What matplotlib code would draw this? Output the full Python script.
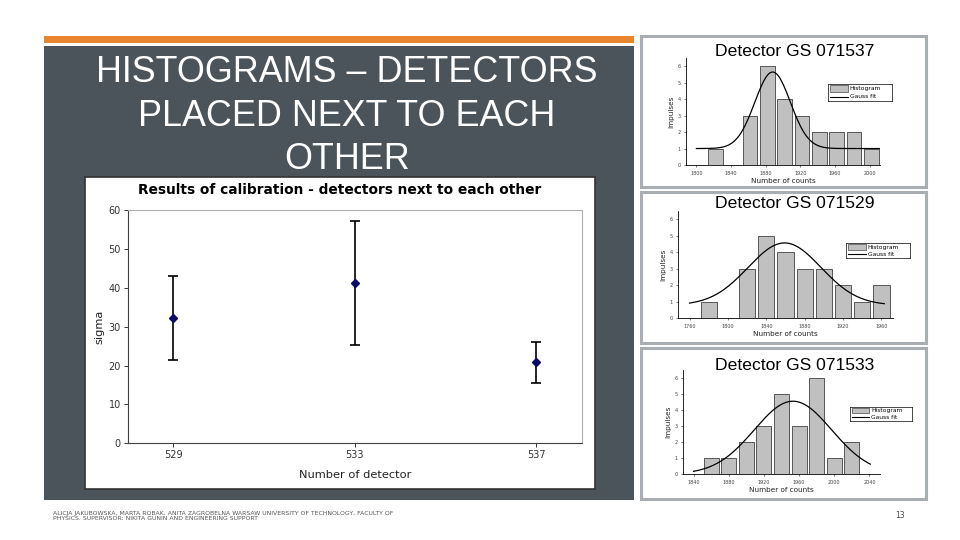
import numpy as np
import matplotlib
matplotlib.use("Agg")
import matplotlib.pyplot as plt
from matplotlib.patches import Rectangle

# ---------------- data ----------------
detectors = [529, 533, 537]
sigma_vals = [32.2, 41.2, 20.8]
sigma_low = [21.3, 25.2, 15.4]
sigma_high = [43.0, 57.2, 26.0]
main_yticks = [0, 10, 20, 30, 40, 50, 60]

h1_title = "Detector GS 071537"
h1_centers = [1822, 1842, 1862, 1882, 1902, 1922, 1942, 1962, 1982, 2002]
h1_counts = [1, 0, 3, 6, 4, 3, 2, 2, 2, 1]
h1_xticks = [1800, 1840, 1880, 1920, 1960, 2000]
h1_fit = dict(y0=1.0, A=4.65, xc=1888, w=20.5, xmin=1800, xmax=2024)

h2_title = "Detector GS 071529"
h2_centers = [1780, 1800, 1820, 1840, 1860, 1880, 1900, 1920, 1940, 1960]
h2_counts = [1, 0, 3, 5, 4, 3, 3, 2, 1, 2]
h2_xticks = [1760, 1800, 1840, 1880, 1920, 1960]
h2_fit = dict(y0=0.78, A=3.78, xc=1859, w=38, xmin=1760, xmax=1963)

h3_title = "Detector GS 071533"
h3_centers = [1860, 1880, 1900, 1920, 1940, 1960, 1980, 2000, 2020]
h3_counts = [1, 1, 2, 3, 5, 3, 6, 1, 2]
h3_xticks = [1840, 1880, 1920, 1960, 2000, 2040]
h3_fit = dict(y0=0.0, A=4.55, xc=1953, w=44, xmin=1840, xmax=2041)

hist_yticks = [0, 1, 2, 3, 4, 5, 6]

slide_title = "HISTOGRAMS – DETECTORS\nPLACED NEXT TO EACH\nOTHER"
footer = ("ALICJA JAKUBOWSKA, MARTA ROBAK, ANITA ZAGROBELNA WARSAW UNIVERSITY OF TECHNOLOGY, FACULTY OF\n"
          "PHYSICS. SUPERVISOR: NIKITA GUNIN AND ENGINEERING SUPPORT")
page_no = "13"

W, H = 960, 540
fig = plt.figure(figsize=(9.6, 5.4), dpi=100)
fig.patch.set_facecolor("white")

bg = fig.add_axes([0, 0, 1, 1])
bg.set_xlim(0, W)
bg.set_ylim(H, 0)
bg.axis("off")


def px_axes(l, t, r, b, z=2):
    return fig.add_axes([l / W, 1 - b / H, (r - l) / W, (b - t) / H], zorder=z)


# slide decorations
bg.add_patch(Rectangle((44, 36), 590, 7, facecolor="#e8852e", edgecolor="none"))
bg.add_patch(Rectangle((44, 46), 590, 454, facecolor="#4a545a", edgecolor="none"))
bg.text(347, 116, slide_title, color="white", fontsize=25.8, ha="center", va="center",
        family="Liberation Sans", linespacing=1.3)

# main chart image
bg.add_patch(Rectangle((85, 177), 510, 312, facecolor="white", edgecolor="#333333", lw=1.2))
bg.text(340, 190, "Results of calibration - detectors next to each other", fontsize=9.9,
        fontweight="bold", ha="center", va="center", family="DejaVu Sans", color="black")

ax = px_axes(127.7, 210, 581.7, 443.3)
yerr = [np.array(sigma_vals) - np.array(sigma_low), np.array(sigma_high) - np.array(sigma_vals)]
ax.errorbar(detectors, sigma_vals, yerr=yerr, fmt="none", ecolor="black", elinewidth=1.2,
            capsize=3.5, capthick=1.2)
ax.plot(detectors, sigma_vals, "D", color="#0a0a6a", markersize=4.5, zorder=3)
ax.set_xlim(528, 538)
ax.set_ylim(0, 60)
ax.set_xticks(detectors)
ax.set_yticks(main_yticks)
ax.tick_params(labelsize=7, colors="#333333", length=3, width=0.7, pad=2)
for s in ["top", "right"]:
    ax.spines[s].set_color("#b0b0b0")
for s in ["left", "bottom"]:
    ax.spines[s].set_color("#404040")
for s in ax.spines.values():
    s.set_linewidth(0.8)
ax.set_xlabel("Number of detector", fontsize=8.2, color="#222222", labelpad=7)
ax.set_ylabel("sigma", fontsize=8.2, color="#222222", labelpad=3)

# footer
bg.text(53, 516, footer, fontsize=4.4, color="#555555", ha="left", va="center",
        family="DejaVu Sans", linespacing=1.2)
bg.text(900, 516, page_no, fontsize=5.5, color="#444444", ha="center", va="center")

# histogram panels
panels = [
    (35, 188, h1_title, h1_centers, h1_counts, h1_xticks, h1_fit, (686, 58, 880, 165), 52, (828, 84, 892, 101)),
    (191, 344, h2_title, h2_centers, h2_counts, h2_xticks, h2_fit, (678, 211, 893, 318), 203, (846, 243, 910, 258)),
    (347, 500, h3_title, h3_centers, h3_counts, h3_xticks, h3_fit, (683, 370, 880, 474), 365, (850, 407, 912, 421)),
]

for (top, bot, title, centers, counts, xticks, fit, box, ty, lbox) in panels:
    bg.add_patch(Rectangle((641, top + 1), 285, bot - top - 2, facecolor="white",
                           edgecolor="#a9aeb2", lw=2.2))
    l, t, r, b = box
    hx = px_axes(l, t, r, b, z=3)
    hx.bar(centers, counts, width=17, color="#c0c0c0", edgecolor="#222222", linewidth=0.5)
    xs = np.linspace(fit["xmin"], fit["xmax"], 300)
    ys = fit["y0"] + fit["A"] * np.exp(-(xs - fit["xc"]) ** 2 / (2 * fit["w"] ** 2))
    hx.plot(xs, ys, color="black", lw=0.9)
    step = xticks[1] - xticks[0]
    hx.set_xlim(xticks[0] - 0.3 * step, xticks[-1] + 0.3 * step)
    hx.set_ylim(0, 6.5)
    hx.set_xticks(xticks)
    hx.set_yticks(hist_yticks)
    hx.tick_params(labelsize=3.5, colors="#444444", length=1.5, width=0.5, pad=2.5)
    for s in ["top", "right"]:
        hx.spines[s].set_visible(False)
    for s in ["left", "bottom"]:
        hx.spines[s].set_linewidth(0.6)
    hx.set_xlabel("Number of counts", fontsize=5.2, labelpad=1.5, color="#222222")
    hx.set_ylabel("Impulses", fontsize=5.2, labelpad=2, color="#222222")
    hx.patch.set_alpha(0)
    bg.text(795, ty, title, fontsize=12.6, ha="center", va="center", family="Liberation Sans",
            color="black")
    # legend
    ll, lt, lr, lb = lbox
    lg = px_axes(ll, lt, lr, lb, z=4)
    lg.set_xlim(0, 1)
    lg.set_ylim(1, 0)
    lg.set_xticks([])
    lg.set_yticks([])
    for s in lg.spines.values():
        s.set_linewidth(0.5)
    lg.add_patch(Rectangle((0.03, 0.08), 0.28, 0.38, facecolor="#c0c0c0", edgecolor="#222222", lw=0.4))
    lg.plot([0.03, 0.31], [0.74, 0.74], color="black", lw=0.8)
    lg.text(0.34, 0.27, "Histogram", fontsize=4.3, va="center", ha="left")
    lg.text(0.34, 0.74, "Gauss fit", fontsize=4.3, va="center", ha="left")

fig.savefig("out.png", dpi=100, facecolor="white")
